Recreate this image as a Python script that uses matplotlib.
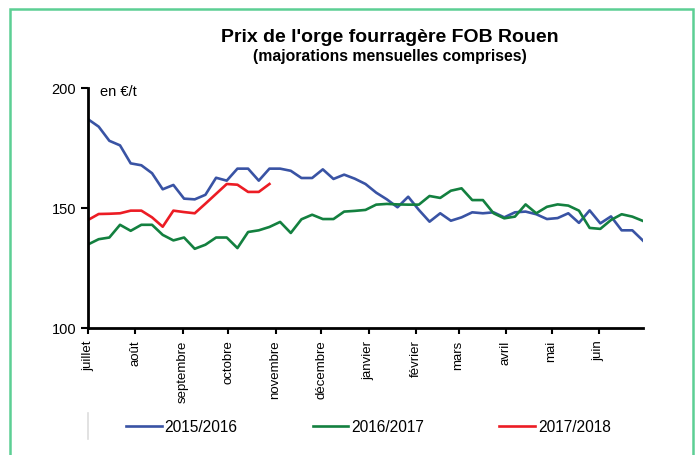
import numpy as np
import matplotlib
matplotlib.use("Agg")
import matplotlib.pyplot as plt
from matplotlib.patches import Rectangle
from matplotlib.lines import Line2D

# weekly prices, en €/t, from early July
prix_2015 = [187.0, 183.9, 178.0, 176.1, 168.6, 167.8, 164.5, 157.8, 159.6, 153.9,
             153.6, 155.5, 162.6, 161.4, 166.4, 166.4, 161.4, 166.4, 166.4, 165.5,
             162.5, 162.5, 166.1, 162.1, 163.9, 162.2, 160.0, 156.4, 153.6, 150.3,
             154.7, 149.2, 144.3, 147.8, 144.7, 146.1, 148.2, 147.8, 148.2, 146.1,
             148.2, 148.5, 147.4, 145.4, 145.8, 147.8, 143.8, 149.0, 143.6, 146.5,
             140.7, 140.7, 136.4]
prix_2016 = [134.8, 137.0, 137.7, 143.0, 140.5, 143.0, 143.0, 138.8, 136.5, 137.7,
             133.0, 134.7, 137.7, 137.7, 133.3, 140.0, 140.7, 142.1, 144.2, 139.6,
             145.3, 147.2, 145.4, 145.4, 148.5, 148.8, 149.2, 151.4, 151.7, 151.5,
             151.4, 151.4, 155.0, 154.2, 157.2, 158.2, 153.3, 153.3, 147.8, 145.7,
             146.4, 151.5, 147.8, 150.5, 151.5, 151.0, 148.9, 141.7, 141.3, 145.0,
             147.4, 146.4, 144.6]
prix_2017 = [145.0, 147.5, 147.6, 147.8, 148.9, 148.9, 146.1, 142.2, 148.9, 148.3,
             147.8, 151.8, 155.9, 160.0, 159.7, 156.7, 156.7, 160.0]

mois = ["juillet", "août", "septembre", "octobre", "novembre", "décembre",
        "janvier", "février", "mars", "avril", "mai", "juin"]
debut_mois = [0, 31, 62, 92, 123, 153, 184, 215, 243, 274, 304, 335]  # jours

saisons = ["2015/2016", "2016/2017", "2017/2018"]
couleurs = ["#3953A4", "#13803F", "#EC1C24"]

plt.rcParams['font.family'] = ['Liberation Sans', 'DejaVu Sans']

fig = plt.figure(figsize=(6.96, 4.55), dpi=100)
ax = fig.add_axes([88 / 696, 1 - 328 / 455, 555 / 696, 240 / 455])

for prix, lab, c in zip([prix_2015, prix_2016, prix_2017], saisons, couleurs):
    ax.plot(np.arange(len(prix)), prix, color=c, lw=1.9, label=lab)

ax.set_xlim(0, 52)
ax.set_ylim(100, 200)
ax.set_yticks([100, 150, 200])
ax.set_xticks(np.array(debut_mois) / 7)
ax.set_xticklabels(mois, rotation=90, fontsize=9.5)
ax.tick_params(axis='y', labelsize=10.5, length=5, width=1.5, direction='out')
ax.tick_params(axis='x', length=4, width=1.5, direction='out', pad=5)
for s in ['top', 'right']:
    ax.spines[s].set_visible(False)
for s in ['left', 'bottom']:
    ax.spines[s].set_linewidth(2)

ax.text(0.022, 0.985, "en €/t", transform=ax.transAxes, fontsize=10.5, va='center')

fig.text(390 / 696, 1 - 38 / 455, "Prix de l'orge fourragère FOB Rouen",
         ha='center', va='center', fontsize=14, fontweight='bold')
fig.text(390 / 696, 1 - 56 / 455, "(majorations mensuelles comprises)",
         ha='center', va='center', fontsize=11.3, fontweight='bold')

fig.legend(loc='center', bbox_to_anchor=(368.5 / 696, 1 - 427 / 455), ncol=3,
           frameon=False, fontsize=11.2, handlelength=2.3, handletextpad=0.2,
           columnspacing=4.82)

# cadre vert et petit trait gris
fig.add_artist(Rectangle((9.5 / 696, -0.05), (693 - 9.5) / 696, 1.05 - 9.5 / 455,
                         transform=fig.transFigure, fill=False,
                         edgecolor='#5CCF94', lw=1.8))
fig.add_artist(Line2D([88 / 696, 88 / 696], [1 - 413 / 455, 1 - 439 / 455],
                      transform=fig.transFigure, color='#DDDDDD', lw=1.2))

fig.savefig("out.png", dpi=100)
